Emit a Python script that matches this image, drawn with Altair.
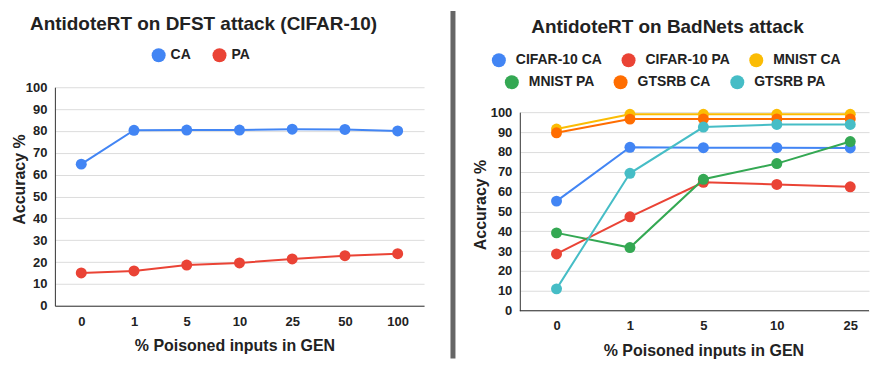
import altair as alt
import pandas as pd

FONT = "Liberation Sans"
TXT = "#222222"

# ---------------- data ----------------
dfst_gen = ["0", "1", "5", "10", "25", "50", "100"]
dfst_ca = [64.8, 80.3, 80.4, 80.4, 80.8, 80.7, 80.0]
dfst_pa = [15.0, 15.9, 18.6, 19.6, 21.4, 22.9, 23.8]

bad_gen = ["0", "1", "5", "10", "25"]
cifar_ca = [55.2, 82.3, 82.1, 82.1, 82.0]
cifar_pa = [28.6, 47.3, 64.7, 63.6, 62.4]
mnist_ca = [91.5, 98.9, 98.9, 98.9, 98.9]
mnist_pa = [39.2, 31.8, 66.2, 74.1, 85.2]
gtsrb_ca = [89.6, 96.5, 96.6, 96.6, 96.6]
gtsrb_pa = [11.0, 69.2, 92.5, 93.8, 93.8]

dfst_series = ["CA", "PA"]
dfst_colors = ["#4285F4", "#EA4335"]
row1_series = ["CIFAR-10 CA", "CIFAR-10 PA", "MNIST CA"]
row1_colors = ["#4285F4", "#EA4335", "#FBBC04"]
row2_series = ["MNIST PA", "GTSRB CA", "GTSRB PA"]
row2_colors = ["#34A853", "#FF6D01", "#46BDC6"]

y_ticks = [0, 10, 20, 30, 40, 50, 60, 70, 80, 90, 100]


def long(gen, names, arrays):
    rows = []
    for name, arr in zip(names, arrays):
        for i, (g, v) in enumerate(zip(gen, arr)):
            rows.append({"gen": g, "idx": i, "acc": v, "series": name})
    return pd.DataFrame(rows)


def y_enc(title_y, title_pad, rng=None):
    sc = alt.Scale(domain=[0, 100], nice=False)
    if rng is not None:
        sc = alt.Scale(domain=[0, 100], nice=False, range=rng)
    return alt.Y(
        "acc:Q",
        scale=sc,
        axis=alt.Axis(
            title="Accuracy %", values=y_ticks, grid=True, gridColor="#dcdcdc",
            gridWidth=1, domain=True, domainColor="#333333", domainWidth=1,
            ticks=False, tickSize=0, labelPadding=8, titlePadding=title_pad,
            titleY=title_y,
        ),
    )


def legend(x, y, offset, colpad):
    return alt.Legend(
        title=None, orient="none", legendX=x, legendY=y, direction="horizontal",
        symbolType="circle", symbolSize=196, symbolStrokeWidth=0,
        labelOffset=offset, columnPadding=colpad, labelFontSize=14,
        labelFontWeight="bold", labelFont=FONT, labelColor=TXT, padding=0,
    )


# ---------------- left panel ----------------
left_df = long(dfst_gen, dfst_series, [dfst_ca, dfst_pa])
lx = alt.X(
    "gen:O", sort=dfst_gen, scale=alt.Scale(type="point", padding=0.5),
    axis=alt.Axis(title="% Poisoned inputs in GEN", labelAngle=0, domain=True,
                  domainColor="#333333", ticks=False, tickSize=0, grid=False,
                  labelPadding=10, titlePadding=9, titleX=180),
)
ly = y_enc(92, -2)
lscale = alt.Scale(domain=dfst_series, range=dfst_colors)
lbase = alt.Chart(left_df)
left = alt.layer(
    lbase.mark_line(strokeWidth=2).encode(
        x=lx, y=ly, color=alt.Color("series:N", scale=lscale, legend=None)),
    lbase.mark_point(filled=True, size=121, opacity=1).encode(
        x=lx, y=ly,
        color=alt.Color("series:N", scale=lscale, legend=legend(97, -39, 5, 21))),
).resolve_scale(color="independent").properties(
    width=370, height=219,
    title=alt.TitleParams("AntidoteRT on DFST attack (CIFAR-10)", offset=14, dx=-36),
)

# ---------------- separator ----------------
sep = alt.Chart(pd.DataFrame({"v": [0]})).mark_rule(
    color="#666666", strokeWidth=5
).encode(x=alt.value(29), y=alt.value(-76.5), y2=alt.value(272)).properties(
    width=48, height=272
)

# ---------------- right panel ----------------
r1_df = long(bad_gen, row1_series, [cifar_ca, cifar_pa, mnist_ca])
r2_df = long(bad_gen, row2_series, [mnist_pa, gtsrb_ca, gtsrb_pa])
RW = 350
STEP = 73.6
label_expr = "[" + ",".join("'%s'" % g for g in bad_gen) + "][datum.value]"
rx = alt.X(
    "idx:Q",
    scale=alt.Scale(domain=[-0.5, -0.5 + RW / STEP], nice=False, zero=False),
    axis=alt.Axis(title="% Poisoned inputs in GEN", labelAngle=0, domain=False,
                  ticks=False, tickSize=0, grid=False, labelPadding=9,
                  titlePadding=10, values=list(range(len(bad_gen))),
                  labelExpr=label_expr, titleX=184, labelFlush=False),
)
RY = [224, 25]
ry = y_enc(117.5, 2, RY)
s1 = alt.Scale(domain=row1_series, range=row1_colors)
s2 = alt.Scale(domain=row2_series, range=row2_colors)
b1 = alt.Chart(r1_df)
b2 = alt.Chart(r2_df)
baseline = alt.Chart(pd.DataFrame({"acc": [0]})).mark_rule(
    color="#333333", strokeWidth=1
).encode(y=ry, x=alt.value(0), x2=alt.value(RW))

right = alt.layer(
    baseline,
    b1.mark_line(strokeWidth=2).encode(
        x=rx, y=ry, color=alt.Color("series:N", scale=s1, legend=None)),
    b1.mark_point(filled=True, size=121, opacity=1).encode(
        x=rx, y=ry,
        color=alt.Color("series:N", scale=s1, legend=legend(-28, -34, 10, 19))),
    b2.mark_line(strokeWidth=2).encode(
        x=rx, y=ry, color=alt.Color("series:N", scale=s2, legend=None)),
    b2.mark_point(filled=True, size=121, opacity=1).encode(
        x=rx, y=ry,
        color=alt.Color("series:N", scale=s2, legend=legend(-15, -12, 10, 19))),
).resolve_scale(color="independent").properties(
    width=RW, height=224,
    title=alt.TitleParams("AntidoteRT on BadNets attack", offset=16, dx=-27),
)

chart = alt.hconcat(left, sep, right, spacing=0).properties(
    padding={"left": 3, "top": 0, "right": 0, "bottom": 0}
).configure(font=FONT).configure_view(stroke=None).configure_axis(
    labelFont=FONT, labelFontSize=13, labelFontWeight="bold", labelColor=TXT,
    titleFont=FONT, titleFontSize=16, titleFontWeight="bold", titleColor=TXT,
).configure_title(
    font=FONT, fontSize=19, fontWeight="bold", color=TXT, anchor="middle"
)

chart.save("out.html", embed_options={"renderer": "svg", "actions": False})
